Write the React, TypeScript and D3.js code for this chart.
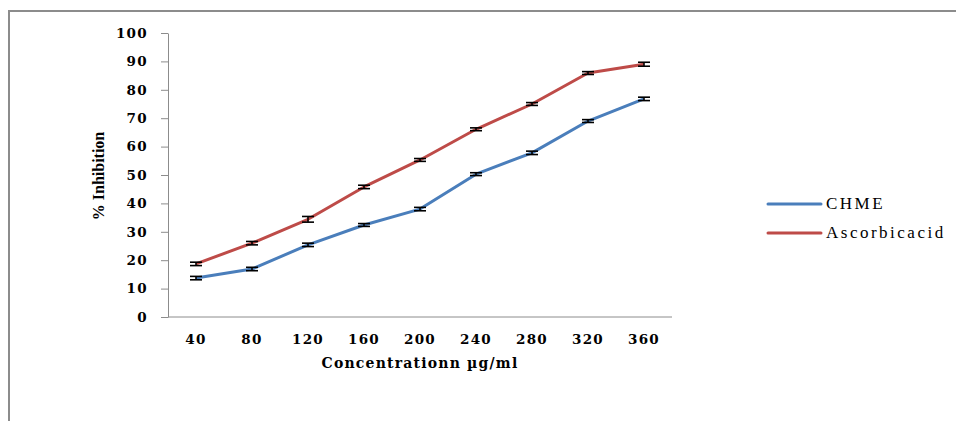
import React, { useEffect, useRef } from "react";
import * as d3 from "d3";

// concentrations (µg/ml)
const categories = ["40", "80", "120", "160", "200", "240", "280", "320", "360"];
const chme = [13.7, 16.9, 25.4, 32.4, 38.0, 50.3, 57.8, 69.0, 76.8];
const ascorbic = [18.7, 26.0, 34.4, 45.8, 55.3, 66.1, 75.0, 85.9, 89.0];
const chmeErr = [0.6, 0.6, 0.6, 0.5, 0.6, 0.5, 0.6, 0.5, 0.6];
const ascorbicErr = [0.6, 0.6, 1.0, 0.6, 0.5, 0.5, 0.5, 0.5, 0.7];
const yTicks = [0, 10, 20, 30, 40, 50, 60, 70, 80, 90, 100];

const seriesNames = ["CHME", "Ascorbicacid"];
const colors = ["#4a7ebb", "#be4b48"];

export default function App() {
  const svgRef = useRef<SVGSVGElement>(null);

  useEffect(() => {
    const svg = d3.select(svgRef.current);
    svg.selectAll("*").remove();

    const left = 168, right = 672, top = 33, bottom = 317;

    // outer frame
    svg.append("rect")
      .attr("x", 9).attr("y", 11)
      .attr("width", 960).attr("height", 430)
      .attr("fill", "none").attr("stroke", "#8c8c8c").attr("stroke-width", 2);

    const x = d3.scaleBand().domain(categories).range([left, right]);
    const y = d3.scaleLinear().domain([0, 100]).range([bottom, top]);

    // y axis
    const yAxis = d3.axisLeft(y).tickValues(yTicks).tickSize(7).tickSizeOuter(0);
    const gy = svg.append("g").attr("transform", `translate(${left},0)`).call(yAxis);
    gy.selectAll("path, line").attr("stroke", "#8c8c8c");
    gy.selectAll("text")
      .attr("x", -20)
      .attr("font-family", "DejaVu Serif")
      .attr("font-weight", "bold")
      .attr("font-size", 13.5)
      .attr("letter-spacing", 1.3)
      .attr("fill", "#000");

    // x axis
    const xAxis = d3.axisBottom(x).tickSize(0).tickSizeOuter(0);
    const gx = svg.append("g").attr("transform", `translate(0,${bottom})`).call(xAxis);
    gx.select("path").attr("stroke", "#8c8c8c").attr("d", `M${left},0H${right}`);
    gx.selectAll("text")
      .attr("y", 17)
      .attr("font-family", "DejaVu Serif")
      .attr("font-weight", "bold")
      .attr("font-size", 13.5)
      .attr("letter-spacing", 1.3)
      .attr("fill", "#000");

    // axis titles
    svg.append("text")
      .attr("x", 420).attr("y", 368)
      .attr("text-anchor", "middle")
      .attr("font-family", "DejaVu Serif")
      .attr("font-weight", "bold")
      .attr("font-size", 14)
      .attr("letter-spacing", 1.2)
      .text("Concentrationn µg/ml");

    svg.append("text")
      .attr("transform", "translate(104,176) rotate(-90)")
      .attr("text-anchor", "middle")
      .attr("font-family", "Liberation Serif")
      .attr("font-weight", "bold")
      .attr("font-size", 16)
      .text("% Inhibition");

    const cx = (c: string) => (x(c) as number) + x.bandwidth() / 2;
    const lineGen = d3.line<number>()
      .x((_, i) => cx(categories[i]))
      .y((v) => y(v));

    [chme, ascorbic].forEach((vals, si) => {
      const errs = si === 0 ? chmeErr : ascorbicErr;
      svg.append("path")
        .datum(vals)
        .attr("d", lineGen)
        .attr("fill", "none")
        .attr("stroke", colors[si])
        .attr("stroke-width", 3)
        .attr("stroke-linejoin", "round");

      const g = svg.append("g").attr("stroke", "#000").attr("stroke-width", 1.6);
      vals.forEach((v, i) => {
        const px = cx(categories[i]);
        const e = errs[i];
        g.append("line").attr("x1", px).attr("x2", px).attr("y1", y(v - e)).attr("y2", y(v + e));
        g.append("line").attr("x1", px - 6).attr("x2", px + 6).attr("y1", y(v + e)).attr("y2", y(v + e));
        g.append("line").attr("x1", px - 6).attr("x2", px + 6).attr("y1", y(v - e)).attr("y2", y(v - e));
      });
    });

    // legend
    seriesNames.forEach((name, i) => {
      const ly = 204 + i * 29;
      svg.append("line")
        .attr("x1", 768).attr("x2", 821).attr("y1", ly).attr("y2", ly)
        .attr("stroke", colors[i]).attr("stroke-width", 3).attr("stroke-linecap", "round");
      svg.append("text")
        .attr("x", 826).attr("y", ly + 5)
        .attr("font-family", "Liberation Serif")
        .attr("font-size", 17)
        .attr("letter-spacing", 2.5)
        .text(name);
    });
  }, []);

  return (
    <div style={{ position: "absolute", left: 0, top: 0 }}>
      <svg ref={svgRef} width={956} height={421} style={{ display: "block", background: "#fff" }} />
    </div>
  );
}
